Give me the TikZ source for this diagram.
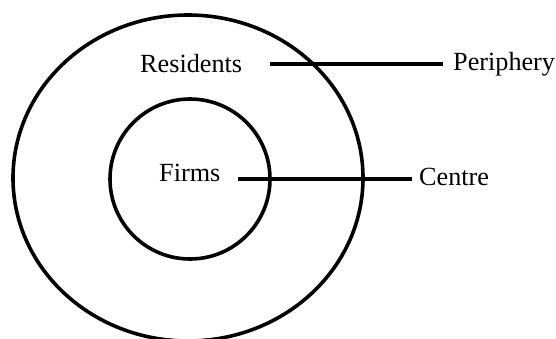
\documentclass[tikz,border=0pt]{standalone}
\usepackage{fontspec}
\setmainfont{Liberation Serif}
\begin{document}
\begin{tikzpicture}[x=1pt,y=-1pt,
  ring/.style={line width=3.6pt,draw=black},
  lead/.style={line width=3.8pt},
  lbl/.style={anchor=base west,inner sep=0pt,font=\fontsize{26.2}{30}\selectfont}]
\useasboundingbox (0,0) rectangle (556,338);
\draw[ring] (188,178) ellipse [x radius=175, y radius=163];
\draw[ring] (190,179) circle [radius=80];
\node[lbl] (res) at (140,72) {Residents};
\node[lbl] (per) at (453,70) {Periphery};
\node[lbl] (firms) at (159,181) {Firms};
\node[lbl] (cen) at (419,185) {Centre};
\coordinate (p1) at (270,64);
\coordinate (c1) at (238,179);
\draw[lead] (p1) -- ([xshift=-10pt]per.west |- p1);
\draw[lead] (c1) -- ([xshift=-7pt]cen.west |- c1);
\end{tikzpicture}
\end{document}
